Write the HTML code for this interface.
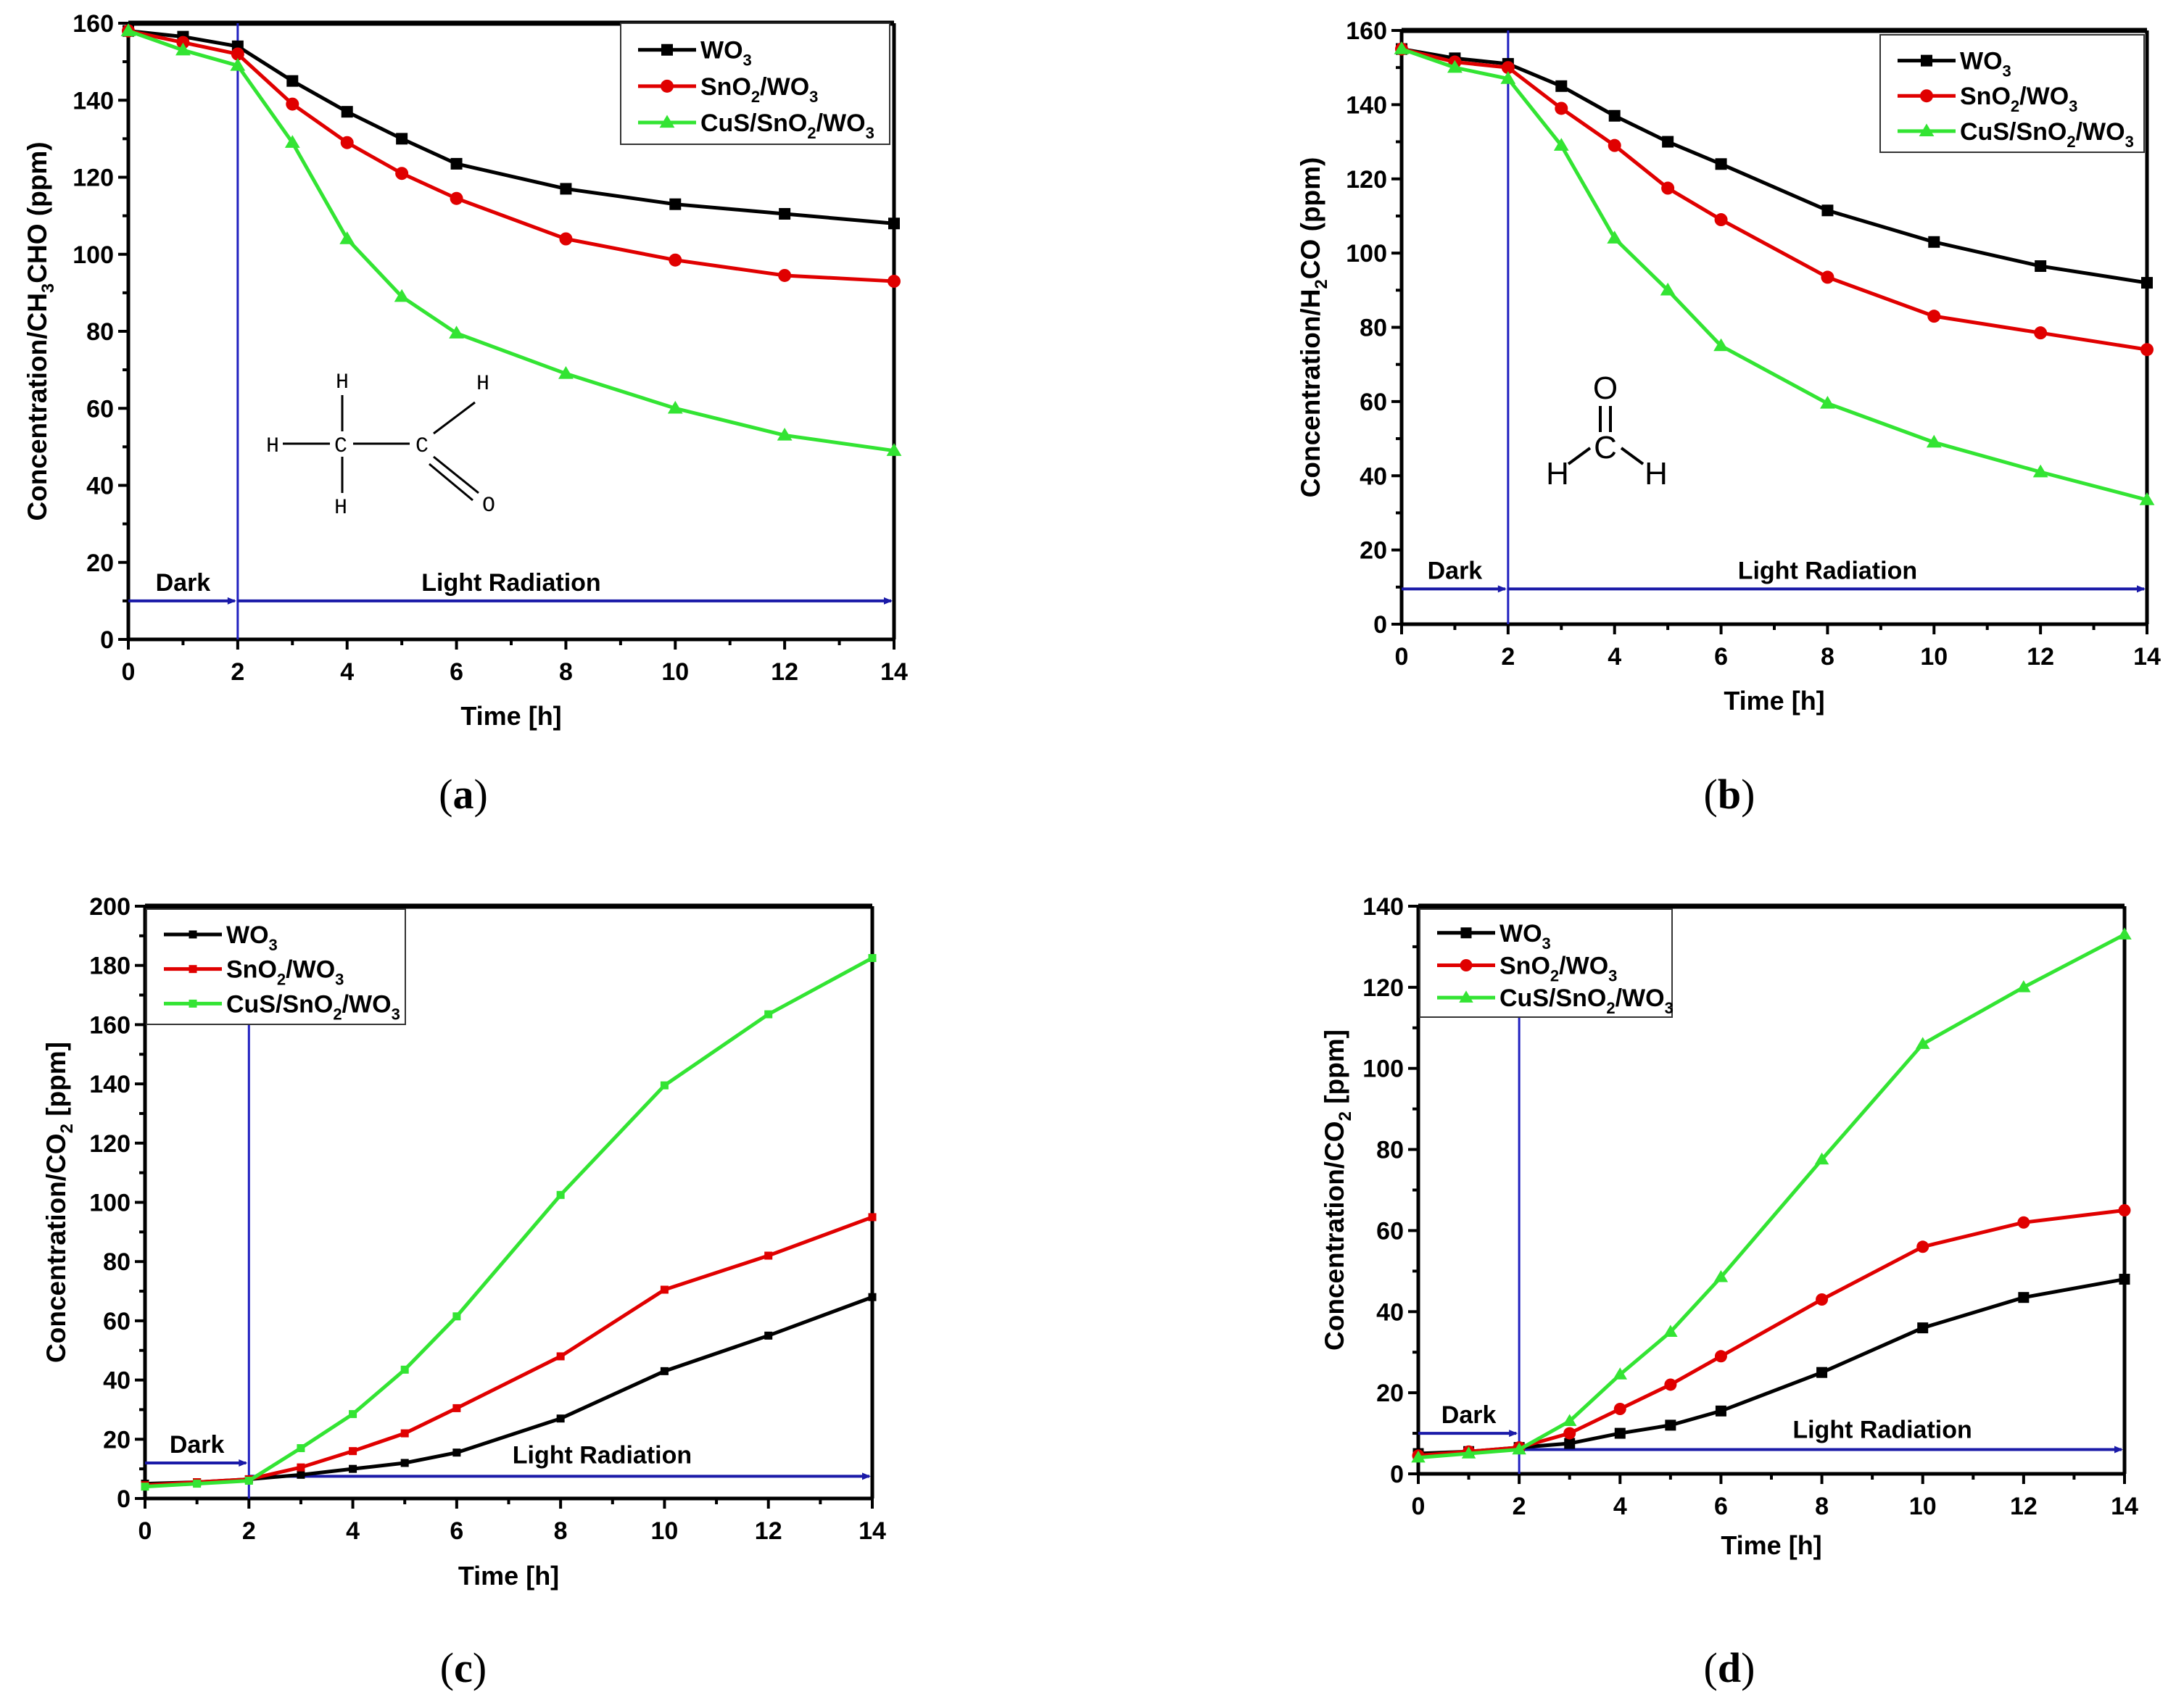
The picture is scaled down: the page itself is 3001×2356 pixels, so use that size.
<!DOCTYPE html>
<html><head><meta charset="utf-8"><style>
html,body{margin:0;padding:0;background:#fff}
svg{display:block}
text{font-family:"Liberation Sans",Arial,sans-serif}
</style></head><body>
<svg id="fig" width="3001" height="2356" viewBox="0 0 3001 2356" xmlns="http://www.w3.org/2000/svg"></svg>
<script>
const hours = [0,1,2,3,4,5,6,8,10,12,14];
const aWO3 = [158,156.5,154,145,137,130,123.5,117,113,110.5,108];
const aSnO2 = [158,155,152,139,129,121,114.5,104,98.5,94.5,93];
const aCuS = [158,153,149,129,104,89,79.5,69,60,53,49];
const bWO3 = [155,152.5,151,145,137,130,124,111.5,103,96.5,92];
const bSnO2 = [155,151.5,150,139,129,117.5,109,93.5,83,78.5,74];
const bCuS = [155,150,147,129,104,90,75,59.5,49,41,33.5];
const cWO3 = [5,5.5,6.5,8,10,12,15.5,27,43,55,68];
const cSnO2 = [4.5,5.5,6.5,10.5,16,22,30.5,48,70.5,82,95];
const cCuS = [4,5,6,17,28.5,43.5,61.5,102.5,139.5,163.5,182.5];
const dWO3 = [5,5.5,6.5,7.5,10,12,15.5,25,36,43.5,48];
const dSnO2 = [4.5,5.5,6.5,10,16,22,29,43,56,62,65];
const dCuS = [4,5,6,13,24.5,35,48.5,77.5,106,120,133];
const xTicks = [0,2,4,6,8,10,12,14];
const yTicksA = [0,20,40,60,80,100,120,140,160];
const yTicksC = [0,20,40,60,80,100,120,140,160,180,200];
const yTicksD = [0,20,40,60,80,100,120,140];

const NS="http://www.w3.org/2000/svg";
const svg=document.getElementById('fig');
function el(tag,attrs,parent){const e=document.createElementNS(NS,tag);for(const k in attrs)e.setAttribute(k,attrs[k]);(parent||svg).appendChild(e);return e;}
const COLORS={WO3:'#000',SnO2:'#e00000',CuS:'#33e433'};

function panel(cfg){
  const g=el('g',{});
  
  
  const X=v=>cfg.x0+(cfg.x1-cfg.x0)*v/14;
  const Y=v=>cfg.y0+(cfg.y1-cfg.y0)*v/cfg.ymax;
  el('line',{x1:cfg.x0,y1:cfg.y1,x2:cfg.x1,y2:cfg.y1,stroke:'#000','stroke-width':7},g);
  el('line',{x1:cfg.x1,y1:cfg.y1,x2:cfg.x1,y2:cfg.y0,stroke:'#000','stroke-width':5},g);
  el('line',{x1:cfg.x0,y1:cfg.y1,x2:cfg.x0,y2:cfg.y0,stroke:'#000','stroke-width':5},g);
  el('line',{x1:cfg.x0,y1:cfg.y0,x2:cfg.x1,y2:cfg.y0,stroke:'#000','stroke-width':5},g);
  for(let h=0;h<=14;h++){
    const major=h%2===0;
    el('line',{x1:X(h),y1:cfg.y0,x2:X(h),y2:cfg.y0+(major?14:8),stroke:'#000','stroke-width':4},g);
  }
  xTicks.forEach(t=>{
    const tx=el('text',{x:X(t),y:cfg.y0+56,'font-size':34,'font-weight':'bold','text-anchor':'middle'},g);
    tx.textContent=t;
    
    
  });
  const step=cfg.yTicks[1]-cfg.yTicks[0];
  for(let v=0;v<=cfg.ymax;v+=step/2){
    const major=Math.abs(v%step)<1e-6;
    el('line',{x1:cfg.x0,y1:Y(v),x2:cfg.x0-(major?14:8),y2:Y(v),stroke:'#000','stroke-width':4},g);
  }
  cfg.yTicks.forEach(t=>{
    const tx=el('text',{x:cfg.x0-20,y:Y(t)+12,'font-size':34,'font-weight':'bold','text-anchor':'end'},g);
    tx.textContent=t;
    
    
  });
  const xt=el('text',{x:(cfg.x0+cfg.x1)/2,y:cfg.xtY,'font-size':36,'font-weight':'bold','text-anchor':'middle'},g);
  xt.textContent='Time [h]';
  
  
  const ytx=cfg.ytX, yty=(cfg.y0+cfg.y1)/2;
  const yt=el('text',{x:ytx,y:yty,'font-size':37,'font-weight':'bold','text-anchor':'middle',transform:`rotate(-90 ${ytx} ${yty})`},g);
  yt.innerHTML=cfg.ytitle;
  
  
  el('line',{x1:X(2),y1:cfg.vTop,x2:X(2),y2:cfg.y0,stroke:'#2020c0','stroke-width':3},g);
  el('line',{x1:X(0),y1:Y(cfg.darkY),x2:X(2)-4,y2:Y(cfg.darkY),stroke:'#1a1aa8','stroke-width':4},g);
  el('polygon',{points:`${X(2)-2},${Y(cfg.darkY)} ${X(2)-14},${Y(cfg.darkY)-5} ${X(2)-14},${Y(cfg.darkY)+5}`,fill:'#1a1aa8'},g);
  el('line',{x1:X(2),y1:Y(cfg.lightY),x2:X(14)-4,y2:Y(cfg.lightY),stroke:'#1a1aa8','stroke-width':4},g);
  el('polygon',{points:`${X(14)-2},${Y(cfg.lightY)} ${X(14)-14},${Y(cfg.lightY)-5} ${X(14)-14},${Y(cfg.lightY)+5}`,fill:'#1a1aa8'},g);
  const dk=el('text',{x:X(1),y:Y(cfg.darkY)-14,'font-size':34,'font-weight':'bold','text-anchor':'middle'},g);
  dk.textContent='Dark';
  
  
  const lr=el('text',{x:X(cfg.lrX),y:Y(cfg.lightY)+cfg.lrDy,'font-size':34,'font-weight':'bold','text-anchor':'middle'},g);
  lr.textContent='Light Radiation';
  
  
  cfg.series.forEach(s=>{
    const pts=hours.map((h,i)=>X(h)+','+Y(s.vals[i])).join(' ');
    const pl=el('polyline',{points:pts,fill:'none',stroke:COLORS[s.key],'stroke-width':5},g);
    
    
    hours.forEach((h,i)=>marker(g,s.marker,X(h),Y(s.vals[i]),COLORS[s.key],cfg.msize));
  });
  const L=cfg.leg;
  const lg=el('g',{},g);
  
  
  el('rect',{x:L.x,y:L.y,width:L.w,height:L.h,fill:'#fff',stroke:'#333','stroke-width':2},lg);
  const names=['WO<tspan dy="10" font-size="22">3</tspan>','SnO<tspan dy="10" font-size="22">2</tspan><tspan dy="-10">/WO</tspan><tspan dy="10" font-size="22">3</tspan>','CuS/SnO<tspan dy="10" font-size="22">2</tspan><tspan dy="-10">/WO</tspan><tspan dy="10" font-size="22">3</tspan>'];
  cfg.series.forEach((s,i)=>{
    const yy=L.y+L.h*(0.22+0.3*i);
    const e=el('g',{},lg);
    
    
    el('line',{x1:L.x+24,y1:yy,x2:L.x+104,y2:yy,stroke:COLORS[s.key],'stroke-width':5},e);
    marker(e,s.marker,L.x+64,yy,COLORS[s.key],cfg.msize);
    const t=el('text',{x:L.x+110,y:yy+12,'font-size':34,'font-weight':'bold'},e);
    t.innerHTML=names[i];
  });
  const pl=el('text',{x:cfg.lab[0],y:cfg.lab[1],'font-size':58,'text-anchor':'middle',style:'font-family:"Liberation Serif",serif'},g);
  pl.innerHTML='(<tspan font-weight="bold">'+cfg.id+'</tspan>)';
  
  
  return {g,X,Y};
}
function marker(g,type,x,y,c,sz){
  if(type==='sq') el('rect',{x:x-sz/2,y:y-sz/2,width:sz,height:sz,fill:c},g);
  else if(type==='ci') el('circle',{cx:x,cy:y,r:sz/2+1,fill:c},g);
  else if(type==='tr') el('polygon',{points:`${x},${y-sz*0.65} ${x-sz*0.65},${y+sz*0.45} ${x+sz*0.65},${y+sz*0.45}`,fill:c},g);
}
const sub2='<tspan dy="10" font-size="24">';
panel({id:'a',x0:177,x1:1233,y0:882,y1:32,ymax:160,yTicks:yTicksA,xtY:1000,ytX:64,
  ytitle:'Concentration/CH'+sub2+'3</tspan><tspan dy="-10">CHO (ppm)</tspan>',
  vTop:32,darkY:10,lightY:10,lrX:7,lrDy:-14,msize:16,
  series:[{key:'WO3',vals:aWO3,marker:'sq'},{key:'SnO2',vals:aSnO2,marker:'ci'},{key:'CuS',vals:aCuS,marker:'tr'}],
  leg:{x:856,y:32,w:371,h:167},lab:[639,1115]});
panel({id:'b',x0:1933,x1:2961,y0:861,y1:42,ymax:160,yTicks:yTicksA,xtY:979,ytX:1820,
  ytitle:'Concentration/H'+sub2+'2</tspan><tspan dy="-10">CO (ppm)</tspan>',
  vTop:42,darkY:9.5,lightY:9.5,lrX:8,lrDy:-14,msize:16,
  series:[{key:'WO3',vals:bWO3,marker:'sq'},{key:'SnO2',vals:bSnO2,marker:'ci'},{key:'CuS',vals:bCuS,marker:'tr'}],
  leg:{x:2593,y:48,w:364,h:162},lab:[2385,1115]});
panel({id:'c',x0:200,x1:1203,y0:2067,y1:1250,ymax:200,yTicks:yTicksC,xtY:2186,ytX:90,
  ytitle:'Concentration/CO'+sub2+'2</tspan><tspan dy="-10"> [ppm]</tspan>',
  vTop:1413,darkY:12,lightY:7.5,lrX:8.8,lrDy:-18,msize:11,
  series:[{key:'WO3',vals:cWO3,marker:'sq'},{key:'SnO2',vals:cSnO2,marker:'sq'},{key:'CuS',vals:cCuS,marker:'sq'}],
  leg:{x:202,y:1254,w:357,h:159},lab:[639,2320]});
panel({id:'d',x0:1956,x1:2930,y0:2033,y1:1250,ymax:140,yTicks:yTicksD,xtY:2144,ytX:1853,
  ytitle:'Concentration/CO'+sub2+'2</tspan><tspan dy="-10"> [ppm]</tspan>',
  vTop:1403,darkY:10,lightY:6,lrX:9.2,lrDy:-16,msize:15,
  series:[{key:'WO3',vals:dWO3,marker:'sq'},{key:'SnO2',vals:dSnO2,marker:'ci'},{key:'CuS',vals:dCuS,marker:'tr'}],
  leg:{x:1958,y:1254,w:348,h:149},lab:[2385,2320]});

(function(){
  const g=el('g',{});
  
  
  const T=(x,y,s)=>{const t=el('text',{x:x,y:y,'font-size':30,'text-anchor':'middle',style:'font-family:"Liberation Mono",monospace'},g);t.textContent=s;};
  T(472,535,'H');T(376,623,'H');T(470,623,'C');T(582,623,'C');T(666,537,'H');T(470,708,'H');T(674,705,'O');
  const L=(a,b,c,d)=>el('line',{x1:a,y1:b,x2:c,y2:d,stroke:'#000','stroke-width':3},g);
  L(390,612,455,612);L(487,612,565,612);L(472,545,472,595);L(472,630,472,680);
  L(598,598,655,555);L(598,630,660,680);L(592,640,652,690);
})();
(function(){
  const g=el('g',{});
  
  
  const T=(x,y,s)=>{const t=el('text',{x:x,y:y,'font-size':44,'text-anchor':'middle'},g);t.textContent=s;};
  T(2214,550,'O');T(2214,632,'C');T(2148,668,'H');T(2284,668,'H');
  const L=(a,b,c,d)=>el('line',{x1:a,y1:b,x2:c,y2:d,stroke:'#000','stroke-width':4},g);
  L(2207,560,2207,596);L(2221,560,2221,596);L(2163,640,2193,618);L(2236,618,2266,640);
})();
</script>
</body></html>
